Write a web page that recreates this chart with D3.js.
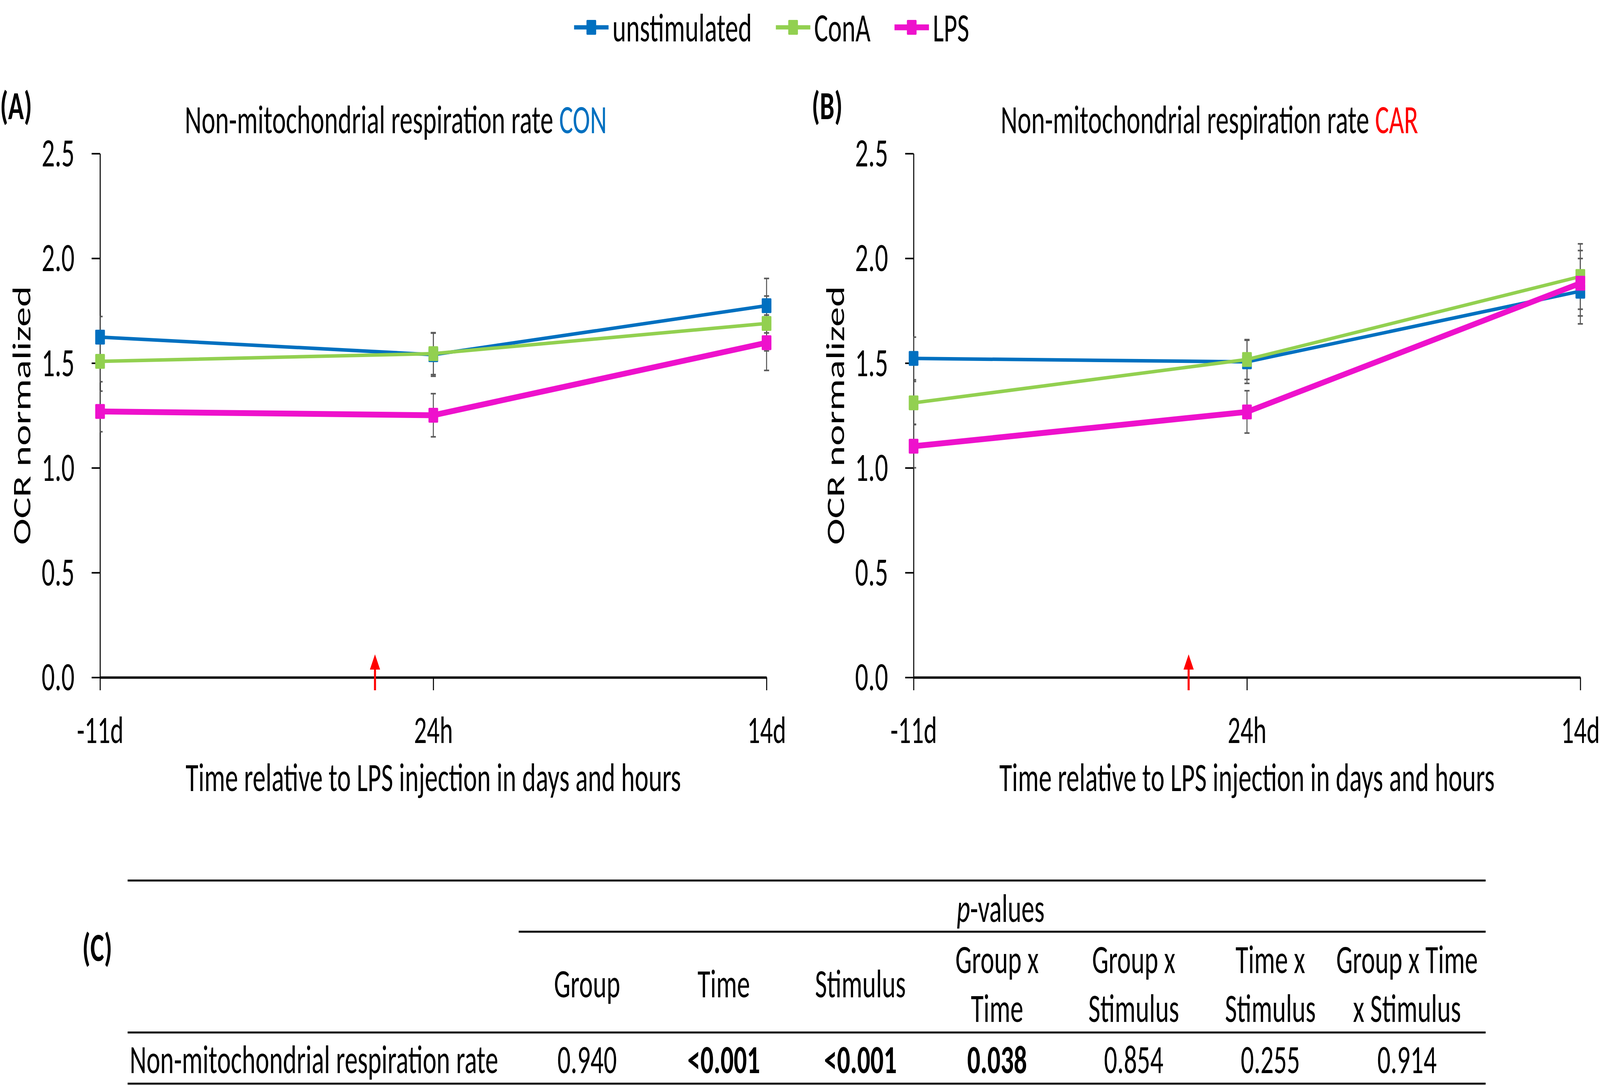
<!DOCTYPE html>
<html>
<head>
<meta charset="utf-8">
<script src="https://cdn.jsdelivr.net/npm/d3@7"></script>
<style>
  html, body { margin: 0; padding: 0; background: #fff; overflow: hidden; }
  svg { display: block; width: 100vw; height: 100vh; }
</style>
</head>
<body>
<svg id="chart"></svg>
<script>
// ---- data ----
const timeLabels = ["-11d", "24h", "14d"];
const seriesNames = ["unstimulated", "ConA", "LPS"];
const seriesColors = ["#0070C0", "#92D050", "#EE11CC"];
const yTicks = [0, 0.5, 1.0, 1.5, 2.0, 2.5];
const lpsInjectionAt = 0.825; // red arrow, in time-index units

// (A) CON group
const conUnstim = [1.624, 1.540, 1.774];
const conConA = [1.508, 1.545, 1.689];
const conLPS = [1.269, 1.251, 1.597];
const conUnstimErr = [0.098, 0.103, 0.130];
const conConAErr = [0.097, 0.100, 0.131];
const conLPSErr = [0.097, 0.103, 0.132];

// (B) CAR group
const carUnstim = [1.522, 1.506, 1.843];
const carConA = [1.310, 1.517, 1.913];
const carLPS = [1.103, 1.267, 1.881];
const carUnstimErr = [0.102, 0.103, 0.156];
const carConAErr = [0.102, 0.095, 0.156];
const carLPSErr = [0.103, 0.101, 0.156];

// (C) table
const tableHeaders = [["Group"], ["Time"], ["Stimulus"], ["Group x", "Time"], ["Group x", "Stimulus"], ["Time x", "Stimulus"], ["Group x Time", "x Stimulus"]];
const tableRowLabel = "Non-mitochondrial respiration rate";
const pValues = ["0.940", "<0.001", "<0.001", "0.038", "0.854", "0.255", "0.914"];
const pBold = [false, true, true, true, false, false, false];

// ---- setup ----
// the window may be narrower than the 6268x2780 figure, so the drawing is
// laid out at 6268x2780 and stretched to fill whatever viewport we get
const W = 6268, H = 2780;
const FONT = "Carlito, Calibri, Lato, sans-serif";
const FS = 102;

const svg = d3.select("#chart")
  .attr("viewBox", [0, 0, W, H])
  .attr("preserveAspectRatio", "none")
  .attr("font-family", FONT);

svg.append("rect").attr("width", W).attr("height", H).attr("fill", "#fff");

const yTop = 393, yBottom = 1734;

function drawPanel(p) {
  const x = d3.scaleLinear().domain([0, timeLabels.length - 1]).range([p.x0, p.x1]);
  const y = d3.scaleLinear().domain([0, 2.5]).range([yBottom, yTop]);
  const g = svg.append("g");

  const clipId = "clip-" + p.tag;
  svg.append("clipPath").attr("id", clipId)
    .append("rect")
    .attr("x", p.x0).attr("y", yTop - 100)
    .attr("width", p.x1 - p.x0 + 60).attr("height", yBottom - yTop + 200);

  // y axis
  g.append("g")
    .attr("transform", `translate(${p.x0},0)`)
    .call(d3.axisLeft(y).tickValues(yTicks).tickFormat(d3.format(".1f"))
      .tickSize(33).tickSizeOuter(0).tickPadding(67))
    .attr("font-size", FS).attr("font-family", FONT)
    .call(a => {
      a.select(".domain").attr("stroke", "#000").attr("stroke-width", 4);
      a.selectAll(".tick line").attr("stroke", "#000").attr("stroke-width", 4);
      a.selectAll(".tick text").attr("fill", "#000");
    });

  // x axis at 0
  g.append("g")
    .attr("transform", `translate(0,${y(0)})`)
    .call(d3.axisBottom(x).tickValues(d3.range(timeLabels.length)).tickFormat(i => timeLabels[i])
      .tickSize(33).tickSizeOuter(0).tickPadding(65))
    .attr("font-size", 99).attr("font-family", FONT)
    .call(a => {
      a.select(".domain").attr("stroke", "#000").attr("stroke-width", 6);
      a.selectAll(".tick line").attr("stroke", "#000").attr("stroke-width", 4);
      a.selectAll(".tick text").attr("fill", "#000");
    });

  // error bars
  const eb = g.append("g").attr("clip-path", `url(#${clipId})`)
    .attr("stroke", "#595959").attr("stroke-width", 4);
  p.means.forEach((vals, s) => {
    vals.forEach((v, i) => {
      const e = p.errs[s][i];
      eb.append("line").attr("x1", x(i)).attr("x2", x(i)).attr("y1", y(v - e)).attr("y2", y(v + e));
      [v - e, v + e].forEach(c => {
        eb.append("line").attr("x1", x(i) - 10).attr("x2", x(i) + 10).attr("y1", y(c)).attr("y2", y(c));
      });
    });
  });

  // lines + markers
  const lineWidths = [9, 9, 15];
  const line = d3.line().x((d, i) => x(i)).y(d => y(d));
  p.means.forEach((vals, s) => {
    g.append("path").datum(vals)
      .attr("fill", "none")
      .attr("stroke", seriesColors[s])
      .attr("stroke-width", lineWidths[s])
      .attr("d", line);
    g.selectAll(null).data(vals).join("rect")
      .attr("x", (d, i) => x(i) - 19)
      .attr("y", d => y(d) - 19)
      .attr("width", 38).attr("height", 38).attr("rx", 3)
      .attr("fill", seriesColors[s]);
  });

  // LPS injection arrow
  const ax = x(lpsInjectionAt);
  g.append("line").attr("x1", ax).attr("x2", ax).attr("y1", 1767).attr("y2", 1708)
    .attr("stroke", "#FF0000").attr("stroke-width", 8);
  g.append("path")
    .attr("d", `M${ax},1675 L${ax - 20},1714 L${ax + 20},1714 Z`)
    .attr("fill", "#FF0000");

  // titles
  const t = g.append("text")
    .attr("x", (p.x0 + p.x1) / 2 - 147).attr("y", 341)
    .attr("text-anchor", "middle").attr("font-size", FS);
  t.append("tspan").text("Non-mitochondrial respiration rate ");
  t.append("tspan").attr("fill", p.titleColor).text(p.group);

  g.append("text")
    .attr("x", p.labelX).attr("y", 305)
    .attr("font-size", FS).attr("font-weight", 700)
    .text(p.label);

  g.append("text")
    .attr("x", (p.x0 + p.x1) / 2).attr("y", 2025)
    .attr("text-anchor", "middle").attr("font-size", FS)
    .text("Time relative to LPS injection in days and hours");

  g.append("text")
    .attr("transform", `translate(${p.x0 - 272},${(yTop + yBottom) / 2}) rotate(-90)`)
    .attr("text-anchor", "middle").attr("font-size", FS)
    .text("OCR normalized");
}

drawPanel({
  tag: "A", label: "(A)", labelX: 0, group: "CON", titleColor: "#0070C0",
  x0: 392, x1: 3003,
  means: [conUnstim, conConA, conLPS],
  errs: [conUnstimErr, conConAErr, conLPSErr]
});

drawPanel({
  tag: "B", label: "(B)", labelX: 3180, group: "CAR", titleColor: "#FF0000",
  x0: 3579, x1: 6191,
  means: [carUnstim, carConA, carLPS],
  errs: [carUnstimErr, carConAErr, carLPSErr]
});

// ---- legend ----
const legend = svg.append("g").attr("transform", "translate(2249,0)");
let lx = 0;
seriesNames.forEach((name, s) => {
  const item = legend.append("g").attr("transform", `translate(${lx},0)`);
  item.append("line").attr("x1", 0).attr("x2", 135).attr("y1", 70).attr("y2", 70)
    .attr("stroke", seriesColors[s]).attr("stroke-width", s === 2 ? 15 : 11);
  item.append("rect").attr("x", 67.5 - 19).attr("y", 70 - 19).attr("width", 38).attr("height", 38)
    .attr("rx", 3).attr("fill", seriesColors[s]);
  const txt = item.append("text").attr("x", 150).attr("y", 106).attr("font-size", FS).text(name);
  lx += 150 + txt.node().getComputedTextLength() + 94;
});

// ---- table (C) ----
const table = svg.append("g").attr("font-size", FS);
const rules = [[500, 5820, 2254], [2032, 5820, 2385], [500, 5820, 2643], [500, 5820, 2774]];
table.selectAll("line.rule").data(rules).join("line")
  .attr("class", "rule")
  .attr("x1", d => d[0]).attr("x2", d => d[1])
  .attr("y1", d => d[2]).attr("y2", d => d[2])
  .attr("stroke", "#000").attr("stroke-width", 5);

table.append("text").attr("x", 322).attr("y", 2460).attr("font-weight", 700).text("(C)");

const pv = table.append("text").attr("x", 3920).attr("y", 2360).attr("text-anchor", "middle");
pv.append("tspan").attr("font-style", "italic").text("p");
pv.append("tspan").text("-values");

const colX = d3.scalePoint().domain(d3.range(tableHeaders.length)).range([2300, 5512]);

tableHeaders.forEach((lines, i) => {
  const ys = lines.length === 1 ? [2553] : [2491, 2616];
  lines.forEach((s, k) => {
    table.append("text").attr("x", colX(i)).attr("y", ys[k])
      .attr("text-anchor", "middle").text(s);
  });
});

table.append("text").attr("x", 508).attr("y", 2747).text(tableRowLabel);
table.selectAll("text.pval").data(pValues).join("text")
  .attr("class", "pval")
  .attr("x", (d, i) => colX(i)).attr("y", 2747)
  .attr("text-anchor", "middle")
  .attr("font-weight", (d, i) => pBold[i] ? 700 : 400)
  .text(d => d);
</script>
</body>
</html>
